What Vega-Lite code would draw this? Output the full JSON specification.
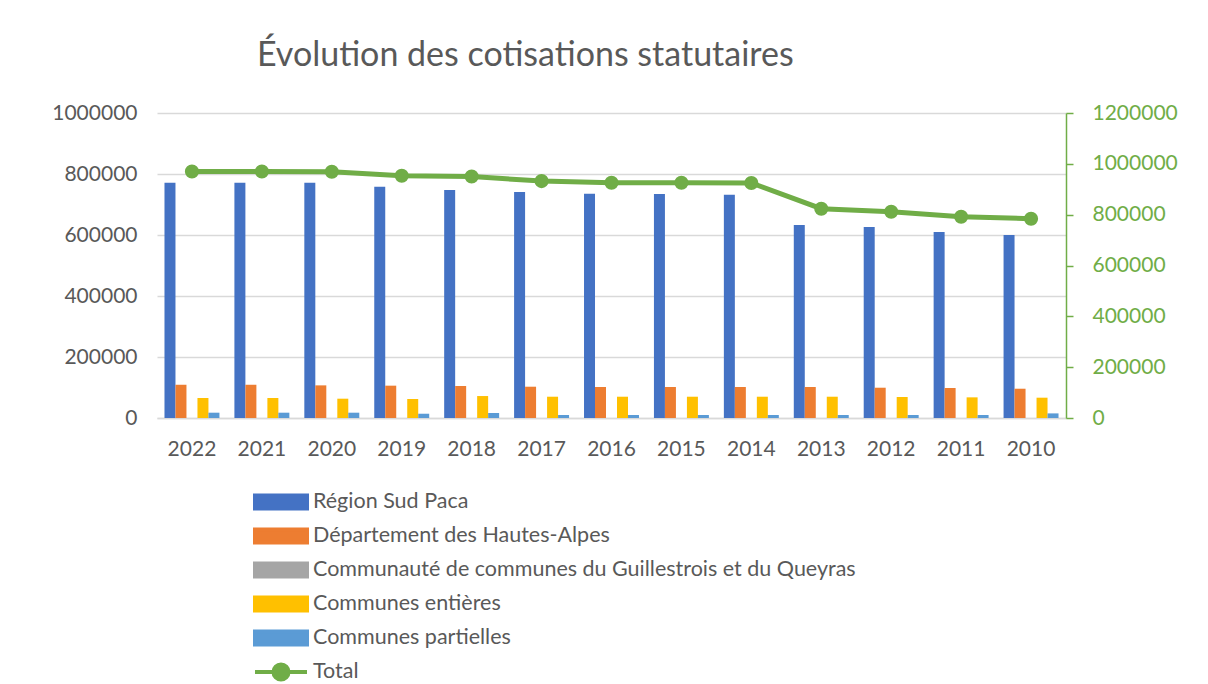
{
  "$schema": "https://vega.github.io/schema/vega-lite/v6.json",
  "autosize": {"type": "none"},
  "width": 909,
  "height": 305,
  "padding": {"left": 157, "top": 113, "right": 142, "bottom": 266},
  "background": "white",
  "config": {"font": "Lato", "view": {"stroke": null}, "title": {"dx": 100}},
  "title": {"text": "Évolution des cotisations statutaires", "anchor": "start", "frame": "group", "dx": 100, "offset": 29, "fontSize": 34, "font": "Lato", "fontWeight": "normal", "color": "#595959"},
  "datasets": {
    "bars": [
      {"annee": "2022", "serie": "Région Sud Paca", "valeur": 771000},
      {"annee": "2022", "serie": "Département des Hautes-Alpes", "valeur": 109000},
      {"annee": "2022", "serie": "Communauté de communes du Guillestrois et du Queyras", "valeur": 0},
      {"annee": "2022", "serie": "Communes entières", "valeur": 65600},
      {"annee": "2022", "serie": "Communes partielles", "valeur": 17400},
      {"annee": "2021", "serie": "Région Sud Paca", "valeur": 771000},
      {"annee": "2021", "serie": "Département des Hautes-Alpes", "valeur": 109000},
      {"annee": "2021", "serie": "Communauté de communes du Guillestrois et du Queyras", "valeur": 0},
      {"annee": "2021", "serie": "Communes entières", "valeur": 65600},
      {"annee": "2021", "serie": "Communes partielles", "valeur": 17400},
      {"annee": "2020", "serie": "Région Sud Paca", "valeur": 771000},
      {"annee": "2020", "serie": "Département des Hautes-Alpes", "valeur": 107000},
      {"annee": "2020", "serie": "Communauté de communes du Guillestrois et du Queyras", "valeur": 0},
      {"annee": "2020", "serie": "Communes entières", "valeur": 63300},
      {"annee": "2020", "serie": "Communes partielles", "valeur": 17400},
      {"annee": "2019", "serie": "Région Sud Paca", "valeur": 758000},
      {"annee": "2019", "serie": "Département des Hautes-Alpes", "valeur": 106000},
      {"annee": "2019", "serie": "Communauté de communes du Guillestrois et du Queyras", "valeur": 0},
      {"annee": "2019", "serie": "Communes entières", "valeur": 62000},
      {"annee": "2019", "serie": "Communes partielles", "valeur": 14000},
      {"annee": "2018", "serie": "Région Sud Paca", "valeur": 747500},
      {"annee": "2018", "serie": "Département des Hautes-Alpes", "valeur": 105000},
      {"annee": "2018", "serie": "Communauté de communes du Guillestrois et du Queyras", "valeur": 0},
      {"annee": "2018", "serie": "Communes entières", "valeur": 72000},
      {"annee": "2018", "serie": "Communes partielles", "valeur": 16400},
      {"annee": "2017", "serie": "Région Sud Paca", "valeur": 741000},
      {"annee": "2017", "serie": "Département des Hautes-Alpes", "valeur": 102600},
      {"annee": "2017", "serie": "Communauté de communes du Guillestrois et du Queyras", "valeur": 0},
      {"annee": "2017", "serie": "Communes entières", "valeur": 69800},
      {"annee": "2017", "serie": "Communes partielles", "valeur": 9800},
      {"annee": "2016", "serie": "Région Sud Paca", "valeur": 735400},
      {"annee": "2016", "serie": "Département des Hautes-Alpes", "valeur": 101600},
      {"annee": "2016", "serie": "Communauté de communes du Guillestrois et du Queyras", "valeur": 0},
      {"annee": "2016", "serie": "Communes entières", "valeur": 69800},
      {"annee": "2016", "serie": "Communes partielles", "valeur": 9800},
      {"annee": "2015", "serie": "Région Sud Paca", "valeur": 734400},
      {"annee": "2015", "serie": "Département des Hautes-Alpes", "valeur": 101600},
      {"annee": "2015", "serie": "Communauté de communes du Guillestrois et du Queyras", "valeur": 0},
      {"annee": "2015", "serie": "Communes entières", "valeur": 69800},
      {"annee": "2015", "serie": "Communes partielles", "valeur": 9800},
      {"annee": "2014", "serie": "Région Sud Paca", "valeur": 732000},
      {"annee": "2014", "serie": "Département des Hautes-Alpes", "valeur": 101600},
      {"annee": "2014", "serie": "Communauté de communes du Guillestrois et du Queyras", "valeur": 0},
      {"annee": "2014", "serie": "Communes entières", "valeur": 69800},
      {"annee": "2014", "serie": "Communes partielles", "valeur": 9800},
      {"annee": "2013", "serie": "Région Sud Paca", "valeur": 632800},
      {"annee": "2013", "serie": "Département des Hautes-Alpes", "valeur": 101600},
      {"annee": "2013", "serie": "Communauté de communes du Guillestrois et du Queyras", "valeur": 0},
      {"annee": "2013", "serie": "Communes entières", "valeur": 69800},
      {"annee": "2013", "serie": "Communes partielles", "valeur": 9800},
      {"annee": "2012", "serie": "Région Sud Paca", "valeur": 626200},
      {"annee": "2012", "serie": "Département des Hautes-Alpes", "valeur": 99300},
      {"annee": "2012", "serie": "Communauté de communes du Guillestrois et du Queyras", "valeur": 0},
      {"annee": "2012", "serie": "Communes entières", "valeur": 68800},
      {"annee": "2012", "serie": "Communes partielles", "valeur": 9800},
      {"annee": "2011", "serie": "Région Sud Paca", "valeur": 609800},
      {"annee": "2011", "serie": "Département des Hautes-Alpes", "valeur": 98300},
      {"annee": "2011", "serie": "Communauté de communes du Guillestrois et du Queyras", "valeur": 0},
      {"annee": "2011", "serie": "Communes entières", "valeur": 67700},
      {"annee": "2011", "serie": "Communes partielles", "valeur": 9800},
      {"annee": "2010", "serie": "Région Sud Paca", "valeur": 600000},
      {"annee": "2010", "serie": "Département des Hautes-Alpes", "valeur": 96000},
      {"annee": "2010", "serie": "Communauté de communes du Guillestrois et du Queyras", "valeur": 0},
      {"annee": "2010", "serie": "Communes entières", "valeur": 66600},
      {"annee": "2010", "serie": "Communes partielles", "valeur": 15100}
    ],
    "totals": [
      {"annee": "2022", "serie": "Total", "valeur": 970000},
      {"annee": "2021", "serie": "Total", "valeur": 970000},
      {"annee": "2020", "serie": "Total", "valeur": 969000},
      {"annee": "2019", "serie": "Total", "valeur": 953000},
      {"annee": "2018", "serie": "Total", "valeur": 950000},
      {"annee": "2017", "serie": "Total", "valeur": 932000},
      {"annee": "2016", "serie": "Total", "valeur": 925600},
      {"annee": "2015", "serie": "Total", "valeur": 925600},
      {"annee": "2014", "serie": "Total", "valeur": 924500},
      {"annee": "2013", "serie": "Total", "valeur": 823400},
      {"annee": "2012", "serie": "Total", "valeur": 811600},
      {"annee": "2011", "serie": "Total", "valeur": 792000},
      {"annee": "2010", "serie": "Total", "valeur": 784000}
    ]
  },
  "layer": [
    {
      "data": {"name": "bars"},
      "mark": {"type": "bar"},
      "encoding": {
        "x": {"field": "annee", "type": "nominal", "sort": "descending",
          "scale": {"paddingInner": 0.214, "paddingOuter": 0.107},
          "axis": {"title": null, "labelAngle": 0, "labelFontSize": 21, "labelColor": "#595959", "labelPadding": 20, "ticks": false, "domainColor": "#d9d9d9", "domainWidth": 1.5}},
        "xOffset": {"field": "serie", "type": "nominal",
          "sort": ["Région Sud Paca", "Département des Hautes-Alpes", "Communauté de communes du Guillestrois et du Queyras", "Communes entières", "Communes partielles"],
          "scale": {"paddingInner": 0, "paddingOuter": 0}},
        "y": {"field": "valeur", "type": "quantitative", "scale": {"domain": [0, 1000000]},
          "axis": {"title": null, "values": [0, 200000, 400000, 600000, 800000, 1000000], "format": "d", "labelFontSize": 21, "labelColor": "#595959", "labelPadding": 20, "ticks": false, "domain": false, "gridColor": "#d9d9d9", "gridWidth": 1.5}},
        "color": {"field": "serie", "type": "nominal",
          "scale": {"domain": ["Région Sud Paca", "Département des Hautes-Alpes", "Communauté de communes du Guillestrois et du Queyras", "Communes entières", "Communes partielles", "Total"],
            "range": ["#4472c4", "#ed7d31", "#a5a5a5", "#ffc000", "#5b9bd5", "#70ad47"]},
          "legend": {"orient": "none", "legendX": 96, "legendY": 379, "direction": "vertical", "title": null, "padding": 0,
            "symbolType": "M-1,-0.25H1V0.25H-1Z", "symbolSize": 2704, "symbolStrokeWidth": 4, "clipHeight": 20, "rowPadding": 12,
            "labelFontSize": 21.5, "labelColor": "#595959", "labelFont": "Lato", "labelOffset": 4, "labelLimit": 0,
            "encode": {"symbols": {"update": {
              "shape": {"signal": "datum.value === 'Total' ? 'M-1,0H1M-0.29,0A0.29,0.29 0 1,1 0.29,0A0.29,0.29 0 1,1 -0.29,0Z' : 'M-1,-0.25H1V0.25H-1Z'"},
              "fill": {"signal": "scale('color', datum.value)"},
              "stroke": {"signal": "datum.value === 'Total' ? scale('color', datum.value) : 'transparent'"},
              "opacity": {"value": 1}}}}}}
      }
    },
    {
      "data": {"name": "totals"},
      "encoding": {
        "x": {"field": "annee", "type": "nominal", "sort": "descending"},
        "y": {"field": "valeur", "type": "quantitative", "scale": {"domain": [0, 1200000]},
          "axis": {"orient": "right", "title": null, "values": [0, 200000, 400000, 600000, 800000, 1000000, 1200000], "format": "d", "labelFontSize": 21, "labelColor": "#70ad47", "labelPadding": 19, "ticks": true, "tickSize": 7, "tickColor": "#70ad47", "tickWidth": 1.5, "domain": true, "domainColor": "#70ad47", "domainWidth": 1.5, "grid": false}},
        "color": {"field": "serie", "type": "nominal"}
      },
      "layer": [
        {"mark": {"type": "line", "strokeWidth": 5}},
        {"mark": {"type": "point", "filled": true, "size": 200, "opacity": 1}}
      ]
    }
  ],
  "resolve": {"scale": {"y": "independent"}}
}
